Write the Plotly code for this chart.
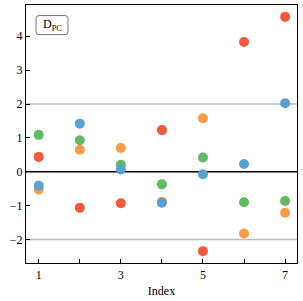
import plotly.graph_objects as go

index = [1, 2, 3, 4, 5, 6, 7]
red = [0.44, -1.06, -0.93, 1.23, -2.34, 3.83, 4.57]
orange = [-0.52, 0.65, 0.70, -0.88, 1.58, -1.82, -1.21]
green = [1.09, 0.93, 0.21, -0.37, 0.42, -0.90, -0.86]
blue = [-0.41, 1.42, 0.07, -0.91, -0.07, 0.23, 2.02]
xtick_vals = [1, 2, 3, 4, 5, 6, 7]
xtick_text = ["1", "", "3", "", "5", "", "7"]
ytick_vals = [-2, -1, 0, 1, 2, 3, 4]

series = [("red", red, "#F4573A"), ("orange", orange, "#FD9A46"),
          ("green", green, "#5DBB63"), ("blue", blue, "#58A1D4")]

fig = go.Figure()
for name, vals, col in series:
    fig.add_trace(go.Scatter(x=index, y=vals, mode="markers", name=name,
                             marker=dict(size=10, color=col, line=dict(width=0))))

for yv, c in [(2, "#BBBBBB"), (-2, "#BBBBBB"), (0, "black")]:
    fig.add_shape(type="line", xref="paper", yref="y", x0=0, x1=1, y0=yv, y1=yv,
                  line=dict(color=c, width=1.5), layer="below")

# rounded box for label
x0, x1, y0, y1 = 0.037, 0.155, 0.885, 0.959
rx, ry = 0.011, 0.011
path = (f"M {x0+rx},{y0} L {x1-rx},{y0} Q {x1},{y0} {x1},{y0+ry} L {x1},{y1-ry} "
        f"Q {x1},{y1} {x1-rx},{y1} L {x0+rx},{y1} Q {x0},{y1} {x0},{y1-ry} "
        f"L {x0},{y0+ry} Q {x0},{y0} {x0+rx},{y0} Z")
fig.add_shape(type="path", xref="paper", yref="paper", path=path,
              line=dict(color="#777777", width=1), fillcolor="white")
fig.add_annotation(xref="paper", yref="paper", x=(x0+x1)/2, y=(y0+y1)/2,
                   xanchor="center", yanchor="middle",
                   text="D<sub>PC</sub>", showarrow=False,
                   font=dict(size=12, color="black", family="Liberation Serif"))

fig.update_layout(
    width=303, height=301,
    margin=dict(l=26, r=6, t=5, b=38, autoexpand=False),
    plot_bgcolor="white", paper_bgcolor="white",
    showlegend=False,
    font=dict(family="Liberation Serif", size=12, color="black"),
    xaxis=dict(range=[0.69, 7.29], tickvals=xtick_vals, ticktext=xtick_text,
               ticks="inside", ticklen=4, tickcolor="black", automargin=False,
               showline=True, linecolor="black", linewidth=1.2, mirror=True,
               showgrid=False, zeroline=False,
               title=dict(text="Index", standoff=6, font=dict(size=12))),
    yaxis=dict(range=[-2.69, 4.92], tickvals=ytick_vals, automargin=False,
               ticks="inside", ticklen=4, tickcolor="black",
               showline=True, linecolor="black", linewidth=1.2, mirror=True,
               showgrid=False, zeroline=False),
)

fig.write_html("out.html", config={"displayModeBar": False},
               post_script="document.body.style.margin='0px';")
